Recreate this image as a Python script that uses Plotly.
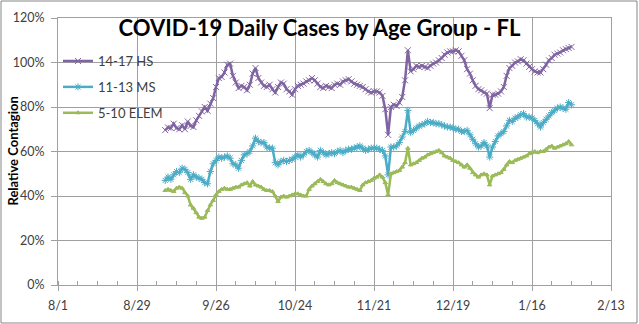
import pandas as pd
import plotly.graph_objects as go

start_date = "2020-09-08"

hs_14_17 = [69.6, 70.8, 70.5, 72.5, 70.5, 70, 71.8, 70, 73.5, 71.5,
            71, 74, 76, 78, 80, 78.3, 81.5, 84, 89, 93,
            93.5, 95.5, 99, 99.5, 94, 91, 88.5, 89.5, 89, 87.5,
            90, 95, 97.5, 93, 91, 89.5, 89, 90, 88, 86.5,
            89, 91, 90.5, 88, 87, 85.5, 88, 89.5, 90, 90.5,
            91.5, 92, 93, 92, 90.5, 89, 88.5, 89.5, 89, 88.5,
            90, 90.5, 90, 91.5, 92, 92.5, 91.5, 90.5, 90, 89.5,
            89, 88, 87, 86.5, 87, 87, 86.5, 85, 79, 67.5,
            80, 81, 80.5, 82, 84.5, 92, 105.5, 96, 97, 98.5,
            98, 98.5, 98, 97.5, 98.5, 99.5, 100, 101, 102, 103.5,
            104.5, 105, 105, 105.5, 105, 103, 101, 97, 95, 92,
            89.5, 88, 87.5, 86.5, 86, 79.5, 85.5, 85.5, 86, 87,
            89, 94, 97.5, 98.5, 100, 100.5, 101.5, 101, 99.5, 98,
            97, 96, 95.5, 95.5, 97, 99, 101, 102, 103.5, 104,
            104.5, 105.5, 106, 106.5, 107]

ms_11_13 = [47, 48.5, 47.5, 49.5, 51, 50.5, 52.5, 52, 50.5, 47.5,
            49.5, 48.5, 48, 47.5, 46, 45.5, 51, 54.5, 56, 57.5,
            57, 57.5, 58, 57, 54.5, 54, 52.5, 56, 58.5, 59,
            60, 62.5, 66, 64.5, 64, 64, 62, 61.5, 61.5, 55,
            54, 55.5, 56, 55.5, 56, 56.5, 57.5, 58.5, 57.5, 58.5,
            60, 60.5, 59.5, 58.5, 57.5, 60.5, 59.5, 58.5, 59, 59.5,
            59, 60, 60.5, 59.5, 60.5, 61, 61, 61.5, 62, 62.5,
            61.5, 60.5, 61, 61.5, 61.5, 61.5, 61, 60.5, 58, 49.5,
            62, 62, 62.5, 64, 66.5, 69, 78.5, 68.5, 69.5, 70.5,
            71.5, 72, 72.5, 73.5, 73, 73, 72.5, 72.5, 72, 71.5,
            71, 71, 70.5, 70, 70, 69, 69, 69.5, 67.5, 65.5,
            63.5, 62, 62.5, 64, 62.5, 57.5, 62, 64.5, 67, 68,
            69, 71.5, 74, 73.5, 75, 75.5, 76.5, 77, 75.5, 75.5,
            75, 74, 72.5, 71, 73, 74.5, 76, 77.5, 78.5, 79.5,
            80, 79.5, 79, 82, 81]

elem_5_10 = [42.5, 43, 42.5, 42, 43.5, 44, 43.5, 41.5, 40, 36,
             34.5, 32.5, 30.5, 30, 30.5, 33.5, 36, 38, 40.5, 42,
             43, 43.5, 43, 43, 43.5, 44, 44, 45, 45.5, 46,
             44.5, 46.5, 45, 44.5, 44, 43, 42.5, 42.5, 42, 40,
             37.5, 39.5, 40, 39.5, 40, 40.5, 41, 41, 40.5, 40,
             40, 43, 44.5, 45.5, 46.5, 47.5, 46.5, 45.5, 45, 45.5,
             47, 46, 45.5, 45, 44.5, 44, 44, 43.5, 43, 42.5,
             45, 46, 46.5, 47, 48, 48.5, 49.5, 48.5, 46, 40.5,
             50, 50.5, 51, 51.5, 53, 55, 61.5, 54, 54.5, 55,
             56, 57, 57.5, 58.5, 59, 59.5, 60, 60.5, 59.5, 58,
             57.5, 57, 56, 55.5, 55, 54, 53, 54, 52.5, 50.5,
             49.5, 48.5, 49.5, 50, 49.5, 45, 49, 49.5, 50, 50.5,
             52, 54, 55.5, 55, 56, 56.5, 57, 57.5, 58, 59,
             59.5, 60, 59.5, 60, 60, 61, 62, 62.5, 61.5, 62,
             62.5, 63, 63.5, 64.5, 63]

series_names = ["14-17 HS", "11-13 MS", "5-10 ELEM"]
series_colors = ["#8064A2", "#4BACC6", "#9BBB59"]
series_symbols = ["x-thin", "asterisk", "triangle-up"]

x_tick_dates = ["2020-08-01", "2020-08-29", "2020-09-26", "2020-10-24",
                "2020-11-21", "2020-12-19", "2021-01-16", "2021-02-13"]
x_tick_labels = ["8/1", "8/29", "9/26", "10/24", "11/21", "12/19", "1/16", "2/13"]
y_tick_vals = [0, 20, 40, 60, 80, 100, 120]
y_tick_labels = ["0%", "20%", "40%", "60%", "80%", "100%", "120%"]

dates = pd.date_range(start_date, periods=len(hs_14_17), freq="D")

fig = go.Figure()
for name, vals, col, sym in zip(series_names, [hs_14_17, ms_11_13, elem_5_10],
                                series_colors, series_symbols):
    fig.add_trace(go.Scatter(
        x=dates, y=vals, name=name, mode="lines+markers",
        legendgroup=name,
        line=dict(color=col, width=2.5),
        marker=dict(symbol=sym, size=6 if sym != "triangle-up" else 4,
                    color=col, line=dict(color=col, width=1)),
    ))

L, R, T, B = 58, 28, 18, 39
W, H = 639, 324
pw, ph = W - L - R, H - T - B

grid = "#a0a0a0"
font_fam = "Lato, Calibri, sans-serif"
fig.update_layout(
    width=W, height=H,
    margin=dict(l=L, r=R, t=T, b=B, autoexpand=False),
    paper_bgcolor="white", plot_bgcolor="white",
    font=dict(family=font_fam, size=12, color="#404040"),
    title=dict(text="<b>COVID-19 Daily Cases by Age Group - FL</b>",
               xref="container", x=0.5, xanchor="center",
               yref="container", y=1 - 28 / H, yanchor="middle",
               font=dict(family=font_fam, size=22, color="black")),
    showlegend=True,
    legend=dict(x=0.0, y=0.895, xanchor="left", yanchor="top",
                bgcolor="rgba(0,0,0,0)", font=dict(size=13, color="#404040"),
                traceorder="grouped", tracegroupgap=6),
    xaxis=dict(type="date", range=[x_tick_dates[0], x_tick_dates[-1]],
               tickvals=x_tick_dates, ticktext=x_tick_labels, automargin=False,
               showgrid=True, gridcolor=grid, gridwidth=1,
               showline=True, linecolor=grid, linewidth=1, mirror=True,
               ticks="outside", ticklen=5, tickcolor=grid,
               ticklabelstandoff=4,
               minor=dict(dtick=7 * 86400000, tick0=x_tick_dates[0],
                          ticks="inside", ticklen=4, tickcolor=grid, showgrid=False),
               tickfont=dict(size=12.5, color="#404040"), zeroline=False),
    yaxis=dict(range=[0, 120], tickvals=y_tick_vals, ticktext=y_tick_labels,
               automargin=False,
               showgrid=True, gridcolor=grid, gridwidth=1,
               showline=True, linecolor=grid, linewidth=1, mirror=True,
               ticks="outside", ticklen=6, tickcolor=grid,
               ticklabelstandoff=4,
               tickfont=dict(size=12.5, color="#404040"), zeroline=False),
)

# y-axis title
fig.add_annotation(text="<b>Relative Contagion</b>", xref="paper", yref="paper",
                   x=(12 - L) / pw, y=0.5, textangle=-90, showarrow=False,
                   xanchor="center", yanchor="middle",
                   font=dict(family=font_fam, size=13, color="black"))

# outer chart border
fig.add_shape(type="rect", xref="paper", yref="paper",
              x0=(1 - L) / pw, x1=(637 - L) / pw,
              y0=(H - B - 323) / ph, y1=(H - B - 1) / ph,
              line=dict(color="#868686", width=1), fillcolor="rgba(0,0,0,0)")

fig.write_html("out.html")
